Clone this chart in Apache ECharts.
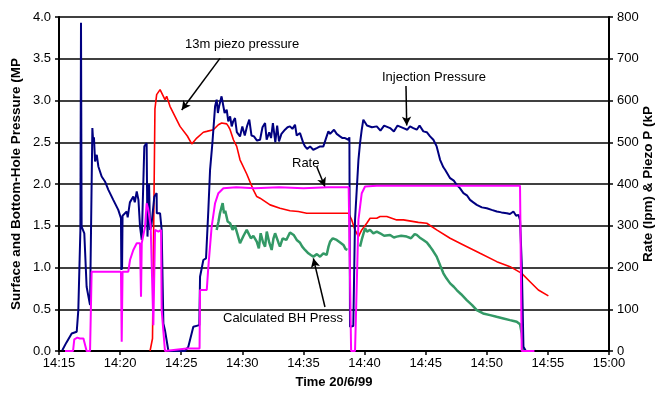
<!DOCTYPE html>
<html>
<head>
<meta charset="utf-8">
<script src="https://cdn.jsdelivr.net/npm/echarts@6/dist/echarts.min.js"></script>
<style>html,body{margin:0;padding:0;background:#fff}#c{width:660px;height:396px}</style>
</head>
<body>
<div id="c"></div>
<script>
// time in minutes after 14:15 on 20/6/99
var xTickStart = 855, xTickEnd = 900, xTickStep = 5; // minutes of day (14:15 .. 15:00)

// Injection Pressure (MPa)
var injT = [0.27,0.6,1.04,1.45,1.58,1.75,1.8,1.85,2.07,2.26,2.54,2.73,2.8,2.86,2.95,3.09,3.22,3.49,3.76,4.04,4.44,4.85,5.07,5.1,5.13,5.16,5.2,5.54,5.62,5.8,6.08,6.2,6.36,6.5,6.63,6.77,6.98,7.17,7.24,7.3,7.37,7.45,7.55,7.8,7.99,8.0,8.27,8.4,8.54,8.67,8.95,10.3,10.58,10.7,10.99,11.48,11.54,11.81,12.03,12.22,12.36,12.55,12.77,12.9,13.0,13.1,13.3,13.4,13.55,13.72,13.85,14.0,14.13,14.25,14.4,14.55,14.81,15.0,15.2,15.4,15.57,15.75,15.95,16.2,16.45,16.65,16.86,16.99,17.2,17.35,17.5,17.7,17.85,18.0,18.2,18.49,18.7,18.9,19.1,19.31,19.45,19.6,19.72,19.99,20.13,20.3,20.54,20.8,21.09,21.36,21.63,21.9,22.04,22.18,22.5,22.72,22.99,23.2,23.4,23.68,23.76,23.81,23.95,24.08,24.22,24.5,24.63,24.77,24.9,25.04,25.2,25.31,25.6,26.0,26.3,26.6,27.09,27.4,27.7,28.18,28.5,28.72,28.99,29.27,29.5,29.81,30.09,30.36,30.63,30.9,31.18,31.45,31.59,32.0,32.3,32.54,32.8,33.09,33.4,33.63,33.9,34.18,34.6,35.0,35.4,35.82,36.2,36.64,36.9,37.18,37.4,37.59,37.72,37.86,38.0,38.2];
var injV = [0.01,0.1,0.21,0.23,0.49,1.45,3.93,1.49,1.41,0.77,0.55,2.67,2.5,2.56,2.27,2.35,2.21,2.09,2.03,1.93,1.81,1.69,1.59,0.97,1.6,0.98,1.62,1.67,1.6,1.78,1.85,1.78,1.91,1.81,1.49,1.33,2.45,2.49,1.37,1.6,2.0,1.45,1.49,1.85,1.89,1.65,1.65,1.45,0.33,0.25,0.0,0.0,0.05,0.05,0.29,0.31,0.89,1.09,1.11,1.69,2.17,2.49,2.93,3.01,2.85,2.93,3.05,2.97,2.85,2.89,2.75,2.81,2.69,2.75,2.79,2.62,2.57,2.69,2.58,2.7,2.77,2.58,2.57,2.52,2.53,2.68,2.73,2.53,2.62,2.55,2.73,2.5,2.7,2.51,2.6,2.65,2.68,2.69,2.66,2.71,2.58,2.57,2.61,2.49,2.45,2.42,2.45,2.41,2.43,2.45,2.45,2.57,2.63,2.6,2.65,2.6,2.57,2.55,2.55,2.53,2.56,0.29,0.27,0.3,1.57,2.29,2.49,2.65,2.77,2.79,2.7,2.71,2.68,2.69,2.64,2.7,2.67,2.63,2.7,2.67,2.65,2.69,2.67,2.65,2.7,2.63,2.62,2.57,2.53,2.45,2.29,2.2,2.17,2.07,2.04,1.99,1.95,1.89,1.86,1.81,1.78,1.75,1.72,1.71,1.69,1.67,1.66,1.65,1.64,1.67,1.62,1.63,1.57,1.05,0.05,0.0];

// Calculated BH Press (MPa); null = gap
var bhT = [12.9,13.05,13.17,13.31,13.39,13.5,13.6,13.8,14.0,14.2,14.4,14.6,14.81,14.95,15.1,15.36,15.49,15.7,15.9,16.18,16.35,16.5,16.7,16.86,17.0,17.2,17.4,17.55,17.68,17.82,17.95,18.08,18.3,18.6,18.9,19.04,19.2,19.45,19.7,19.9,20.13,20.4,20.6,20.81,21.1,21.36,21.63,21.9,22.05,22.18,22.4,22.72,23.0,23.27,23.45,23.6,24.1,24.63,24.8,25.04,25.2,25.45,25.72,26.0,26.27,26.6,27.09,27.4,27.63,28.0,28.45,28.8,29.1,29.27,29.5,29.81,30.1,30.36,30.6,30.9,31.2,31.45,31.7,32.0,32.3,32.54,32.9,33.36,33.8,34.18,34.7,35.27,35.8,36.36,36.9,37.2,37.45,37.6,37.72,37.86,37.95,38.0];
var bhV = [1.45,1.55,1.65,1.73,1.77,1.65,1.68,1.55,1.53,1.45,1.5,1.4,1.29,1.29,1.38,1.45,1.47,1.35,1.38,1.31,1.23,1.41,1.3,1.25,1.43,1.3,1.21,1.35,1.41,1.43,1.3,1.25,1.35,1.33,1.42,1.41,1.39,1.33,1.3,1.25,1.21,1.17,1.15,1.13,1.16,1.13,1.17,1.15,1.25,1.31,1.35,1.33,1.3,1.27,1.22,1.21,null,1.25,1.35,1.47,1.43,1.45,1.41,1.43,1.41,1.38,1.39,1.36,1.37,1.38,1.37,1.35,1.4,1.39,1.36,1.33,1.3,1.25,1.2,1.13,1.02,0.93,0.87,0.81,0.77,0.73,0.68,0.61,0.55,0.49,0.45,0.43,0.41,0.39,0.37,0.36,0.35,0.33,0.32,0.21,0.05,0.0];

// Rate (lpm)
var rateT = [0.49,1.15,1.25,1.5,1.7,2.0,2.13,2.26,2.54,2.67,5.07,5.13,5.2,5.67,5.81,6.08,6.36,6.63,6.71,6.77,7.04,7.17,7.3,7.5,7.6,7.72,7.86,8.13,8.35,8.4,8.67,10.45,11.5,11.54,12.09,12.22,12.49,12.77,13.04,13.45,14.5,16.0,18.0,20.0,22.0,23.7,23.76,23.9,24.22,24.5,24.77,25.04,26.0,30.0,35.0,37.72,37.86,38.9];
var rateV = [0,0,28,32,30,30,26,0,0,190,190,22,190,190,218,242,258,258,130,258,298,354,340,300,298,62,290,286,290,98,0,6,6,146,146,202,298,354,378,390,392,390,392,390,392,392,390,0,0,314,378,394,396,396,396,396,0,0];

// 13m piezo pressure (kPa)
var piezoT = [7.45,7.65,7.85,7.99,8.27,8.4,8.67,8.81,9.08,9.49,9.9,10.04,10.5,10.86,11.27,11.81,12.09,12.63,13.04,13.31,13.72,13.86,14.0,14.27,14.54,14.81,15.36,15.9,16.18,16.45,17.27,18.08,18.9,19.58,20.27,21.63,23.68,23.95,24.22,24.5,24.77,25.18,25.45,26.0,26.27,26.82,27.63,28.18,29.4,30.09,30.9,32.0,33.09,34.45,35.82,36.91,37.86,38.54,39.22,40.04];
var piezoV = [0,30,580,614,626,626,602,610,586,562,538,542,515,496,510,524,526,530,542,546,544,538,530,506,490,458,424,386,370,366,350,342,336,334,330,330,330,314,290,274,290,306,318,318,322,322,314,314,308,306,290,270,254,234,214,202,186,166,146,132];

// annotation arrows [x0,y0(MPa),x1,y1(MPa)] in data units (minutes after 14:15)
var arrows = [
  [13.17,3.505,10.04,2.886],
  [28.39,3.174,28.45,2.70],
  [21.09,2.207,21.76,1.968],
  [21.76,0.527,20.81,1.11]
];

function pairs(t, v) { return t.map(function (x, i) { return [xTickStart + x, v[i]]; }); }
function fmt(m) { var h = Math.floor(m / 60), mm = Math.round(m - h * 60); return h + ':' + (mm < 10 ? '0' : '') + mm; }

var chart = echarts.init(document.getElementById('c'), null, {renderer: 'canvas'});
var font = 'Liberation Sans, Arial, sans-serif';
chart.setOption({
  animation: false,
  backgroundColor: '#fff',
  grid: {left: 59, right: 51, top: 17, bottom: 45, containLabel: false, outerBoundsMode: 'none'},
  xAxis: {
    type: 'value', min: xTickStart, max: xTickEnd, interval: xTickStep,
    name: 'Time 20/6/99', nameLocation: 'middle', nameGap: 25, nameMoveOverlap: false,
    nameTextStyle: {fontFamily: font, fontSize: 13, fontWeight: 'bold', color: '#000'},
    axisLine: {lineStyle: {color: '#000', width: 2}},
    axisTick: {show: true, length: 4, lineStyle: {color: '#000', width: 1.5}},
    axisLabel: {formatter: fmt, fontFamily: font, fontSize: 13, color: '#000', margin: 6},
    splitLine: {show: false}
  },
  yAxis: [{
    type: 'value', min: 0, max: 4, interval: 0.5, position: 'left',
    name: 'Surface and Bottom-Hole Pressure (MP', nameLocation: 'middle', nameGap: 36, nameMoveOverlap: false,
    nameTextStyle: {fontFamily: font, fontSize: 13.5, fontWeight: 'bold', color: '#000'},
    axisLine: {show: true, lineStyle: {color: '#000', width: 2}},
    axisTick: {show: true, length: 4, lineStyle: {color: '#000', width: 1.5}},
    axisLabel: {formatter: function (v) { return v.toFixed(1); }, fontFamily: font, fontSize: 13, color: '#000', margin: 8},
    splitLine: {show: true, lineStyle: {color: '#000', width: 1.5}}
  }, {
    type: 'value', min: 0, max: 800, interval: 100, position: 'right',
    name: 'Rate (lpm) & Piezo P (kP', nameLocation: 'middle', nameGap: 32, nameMoveOverlap: false,
    nameTextStyle: {fontFamily: font, fontSize: 13.5, fontWeight: 'bold', color: '#000'},
    axisLine: {show: true, lineStyle: {color: '#000', width: 2}},
    axisTick: {show: true, length: 4, lineStyle: {color: '#000', width: 1.5}},
    axisLabel: {fontFamily: font, fontSize: 13, color: '#000', margin: 8},
    splitLine: {show: false}
  }],
  series: [{
    name: '13m piezo pressure', type: 'line', yAxisIndex: 1, data: pairs(piezoT, piezoV),
    showSymbol: false, lineStyle: {color: '#ff0000', width: 1.6}, z: 3
  }, {
    name: 'Calculated BH Press', type: 'line', yAxisIndex: 0, data: pairs(bhT, bhV), connectNulls: false,
    showSymbol: false, lineStyle: {color: '#339966', width: 2.5}, z: 4
  }, {
    name: 'Injection Pressure', type: 'line', yAxisIndex: 0, data: pairs(injT, injV),
    showSymbol: false, lineStyle: {color: '#000080', width: 2}, z: 5,
    markLine: {
      silent: true, symbol: ['none', 'arrow'], symbolSize: [7, 9],
      label: {show: false},
      lineStyle: {color: '#000', width: 1.5, type: 'solid'},
      data: arrows.map(function (a) { return [{coord: [xTickStart + a[0], a[1]]}, {coord: [xTickStart + a[2], a[3]]}]; })
    }
  }, {
    name: 'Rate', type: 'line', yAxisIndex: 1, data: pairs(rateT, rateV),
    showSymbol: false, lineStyle: {color: '#ff00ff', width: 2}, z: 6
  }],
  graphic: [
    {type: 'text', x: 185, y: 44, style: {text: '13m piezo pressure', font: '13px ' + font, fill: '#000', verticalAlign: 'middle'}},
    {type: 'text', x: 382, y: 77, style: {text: 'Injection Pressure', font: '13px ' + font, fill: '#000', verticalAlign: 'middle'}},
    {type: 'text', x: 292, y: 163, style: {text: 'Rate', font: '13px ' + font, fill: '#000', verticalAlign: 'middle'}},
    {type: 'text', x: 223, y: 318, style: {text: 'Calculated BH Press', font: '13px ' + font, fill: '#000', verticalAlign: 'middle'}}
  ]
});
</script>
</body>
</html>
